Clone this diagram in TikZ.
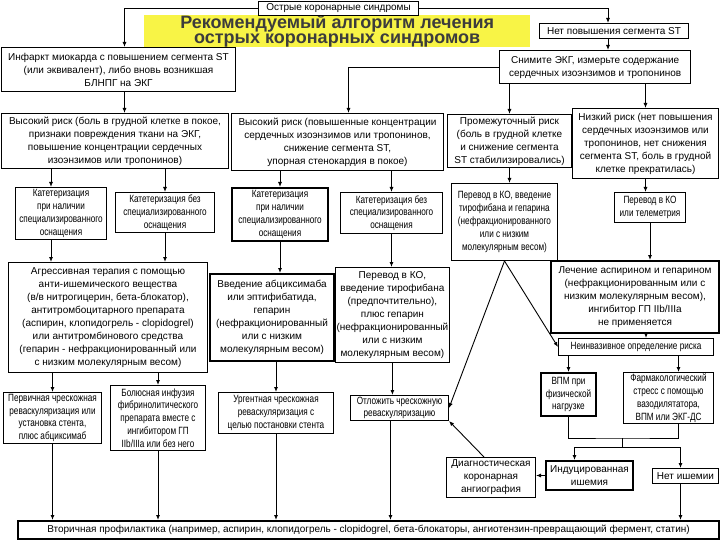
\documentclass[tikz,border=0pt]{standalone}
\usepackage{fontspec}
\setmainfont{Liberation Sans}
\newfontfamily\narrowfont[FakeStretch=0.78]{Liberation Sans}
\usepackage{tikz}
\usetikzlibrary{arrows.meta}
\definecolor{titleyellow}{RGB}{248,244,70}
\definecolor{titlegray}{RGB}{60,60,60}
\newcommand{\titlefont}{\bfseries\fontsize{18}{14.5}\selectfont\lineskiplimit=-50pt\relax}

\begin{document}
\begin{tikzpicture}[x=1pt,y=-1pt]
		\tikzstyle{box}=[draw,rectangle,align=center,anchor=north west,inner sep=1pt,line width=1pt,fill=white,font=\fontsize{10}{13}\selectfont]
		\tikzstyle{narrow}=[font=\narrowfont\fontsize{10.5}{12.8}\selectfont]
		\tikzstyle{heavy}=[line width=2pt]
		\tikzstyle{arr}=[-{Latex[length=5pt,width=4pt]},line width=0.9pt]

		\path[use as bounding box,fill=white] (0,0) rectangle (720,540);

		\node[anchor=north west,fill=titleyellow,minimum width=386pt,minimum height=32pt,inner sep=0pt,align=center,text=titlegray,font=\titlefont] (title) at (144,15) {Рекомендуемый алгоритм лечения\\острых коронарных синдромов};

		\node[box,minimum width=160pt,minimum height=14pt] (acs) at (258,1) {Острые коронарные синдромы};
		\node[box,minimum width=149pt,minimum height=15pt] (nost) at (539,23) {Нет повышения сегмента ST};
		\node[box,minimum width=191pt,minimum height=33pt,line width=1.4pt] (ecg) at (499,50) {Снимите ЭКГ, измерьте содержание\\сердечных изоэнзимов и тропонинов};
		\node[box,minimum width=234pt,minimum height=44pt] (stemi) at (1,47) {Инфаркт миокарда с повышением сегмента ST\\(или эквивалент), либо вновь возникшая\\БЛНПГ на ЭКГ};

		\node[box,minimum width=227pt,minimum height=55pt] (highA) at (1,113) {Высокий риск (боль в грудной клетке в покое,\\признаки повреждения ткани на ЭКГ,\\повышение концентрации сердечных\\изоэнзимов или тропонинов)};
		\node[box,minimum width=212pt,minimum height=57pt] (highB) at (231,113) {Высокий риск (повышенные концентрации\\сердечных изоэнзимов или тропонинов,\\снижение сегмента ST,\\упорная стенокардия в покое)};
		\node[box,minimum width=124pt,minimum height=53pt] (midrisk) at (447,114) {Промежуточный риск\\(боль в грудной клетке\\и снижение сегмента\\ST стабилизировались)};
		\node[box,minimum width=146pt,minimum height=70pt] (lowrisk) at (572,108) {Низкий риск (нет повышения\\сердечных изоэнзимов или\\тропонинов, нет снижения\\сегмента ST, боль в грудной\\клетке прекратилась)};

		\node[box,narrow,minimum width=91pt,minimum height=52pt] (cathA) at (15,187) {Катетеризация\\при наличии\\специализированного\\оснащения};
		\node[box,narrow,minimum width=99pt,minimum height=40pt] (cathB) at (115,192) {Катетеризация без\\специализированного\\оснащения};
		\node[box,narrow,heavy,minimum width=96pt,minimum height=53pt] (cathC) at (231,187) {Катетеризация\\при наличии\\специализированного\\оснащения};
		\node[box,narrow,minimum width=102pt,minimum height=41pt] (cathD) at (340,192) {Катетеризация без\\специализированного\\оснащения};
		\node[box,narrow,minimum width=106pt,minimum height=77pt] (ccu) at (451,183) {Перевод в КО, введение\\тирофибана и гепарина\\(нефракционированного\\или с низким\\молекулярным весом)};
		\node[box,narrow,minimum width=71pt,minimum height=30pt] (tele) at (614,192) {Перевод в КО\\или телеметрия};

		\node[box,minimum width=199pt,minimum height=110pt] (aggr) at (8,262) {Агрессивная терапия с помощью\\анти-ишемического вещества\\(в/в нитрогицерин, бета-блокатор),\\антитромбоцитарного препарата\\(аспирин, клопидогрель - clopidogrel)\\или антитромбинового средства\\(гепарин - нефракционированный или\\с низким молекулярным весом)};
		\node[box,heavy,minimum width=124pt,minimum height=87pt] (abcix) at (209,273) {Введение абциксимаба\\или эптифибатида,\\гепарин\\(нефракционированный\\или с низким\\молекулярным весом)};
		\node[box,minimum width=112pt,minimum height=95pt] (tirof) at (335,267) {Перевод в КО,\\введение тирофибана\\(предпочтительно),\\плюс гепарин\\(нефракционированный\\или с низким\\молекулярным весом)};
		\node[box,heavy,minimum width=168pt,minimum height=72pt] (aspir) at (550,260) {Лечение аспирином и гепарином\\(нефракционированным или с\\низким молекулярным весом),\\ингибитор ГП IIb/IIIa\\не применяется};
		\node[box,narrow,minimum width=155pt,minimum height=17pt] (noninv) at (558,338) {Неинвазивное определение риска};

		\node[box,narrow,minimum width=98pt,minimum height=51pt] (pci) at (3,392) {Первичная чрескожная\\реваскуляризация или\\установка стента,\\плюс абциксимаб};
		\node[box,narrow,minimum width=95pt,minimum height=65pt] (bolus) at (110,385) {Болюсная инфузия\\фибринолитического\\препарата вместе с\\ингибитором ГП\\IIb/IIIa или без него};
		\node[box,narrow,minimum width=115pt,minimum height=41pt] (urgent) at (218,392) {Ургентная чрескожная\\реваскуляризация с\\целью постановки стента};
		\node[box,narrow,minimum width=98pt,minimum height=25pt] (delay) at (350,395) {Отложить чрескожную\\реваскуляризацию};
		\node[box,narrow,heavy,minimum width=55pt,minimum height=43pt] (exer) at (540,372) {ВПМ при\\физической\\нагрузке};
		\node[box,narrow,minimum width=90pt,minimum height=51pt] (pharm) at (623,372) {Фармакологический\\стресс с помощью\\вазодилятатора,\\ВПМ или ЭКГ-ДС};

		\node[box,minimum width=89pt,minimum height=40pt] (angio) at (446,457) {Диагностическая\\коронарная\\ангиография};
		\node[box,heavy,minimum width=87pt,minimum height=29pt] (induced) at (545,460) {Индуцированная\\ишемия};
		\node[box,minimum width=66pt,minimum height=15pt] (noisch) at (652,468) {Нет ишемии};

		\node[box,heavy,minimum width=701pt,minimum height=18pt] (prev) at (17,520) {Вторичная профилактика (например, аспирин, клопидогрель - clopidogrel, бета-блокаторы, ангиотензин-превращающий фермент, статин)};

		\coordinate (join1) at (622,438);
		\coordinate (join2) at (622,447);

		\draw[arr] (acs.west) -| ([xshift=6pt]stemi.north);
		\draw[arr] (acs.east) -| ([xshift=-6pt]nost.north);
		\draw[arr] ([xshift=-6pt]nost.south) -- ([xshift=-6pt]nost.south |- ecg.north);
		\draw[arr] ([xshift=6pt]stemi.south) -- ([xshift=6pt]stemi.south |- highA.north);
		\draw[arr] (ecg.west) -| ([xshift=11pt]highB.north);
		\draw[arr] (midrisk.north |- ecg.south) -- (midrisk.north);
		\draw[arr] (lowrisk.north |- ecg.south) -- (lowrisk.north);

		\draw[arr] ([xshift=-10pt]cathA.north |- highA.south) -- ([xshift=-10pt]cathA.north);
		\draw[arr] (cathB.north |- highA.south) -- (cathB.north);
		\draw[arr] (cathC.north |- highB.south) -- (cathC.north);
		\draw[arr] (cathD.north |- highB.south) -- (cathD.north);
		\draw[arr] (midrisk.south) -- (midrisk.south |- ccu.north);
		\draw[arr] (lowrisk.south) -- (lowrisk.south |- tele.north);

		\draw[arr] ([xshift=-10pt]cathA.south) -- ([xshift=-10pt]cathA.south |- aggr.north);
		\draw[arr] (cathB.south) -- (cathB.south |- aggr.north);
		\draw[arr] (cathC.south) -- (cathC.south |- abcix.north);
		\draw[arr] (cathD.south) -- (cathD.south |- tirof.north);
		\draw[arr] (ccu.south) -- (noninv.west);
		\draw[arr] (ccu.south) -- (delay.east);
		\draw[arr] (tele.south) -- (tele.south |- aspir.north);
		\draw[arr] ([xshift=10pt]noninv.north |- aspir.south) -- ([xshift=10pt]noninv.north);

		\draw[arr] (pci.north |- aggr.south) -- (pci.north);
		\draw[arr] (bolus.north |- aggr.south) -- (bolus.north);
		\draw[arr] (urgent.north |- abcix.south) -- (urgent.north);
		\draw[arr] (tirof.south) -- (tirof.south |- delay.north);
		\draw[arr] (exer.north |- noninv.south) -- (exer.north);
		\draw[arr] ([xshift=10pt]pharm.north |- noninv.south) -- ([xshift=10pt]pharm.north);

		\draw[line width=0.9pt] (exer.south) |- (join1) -| ([xshift=10pt]pharm.south);
		\draw[line width=0.9pt] (join1) -- (join2);
		\draw[arr] (join2) -| ([xshift=-15pt]induced.north);
		\draw[arr] (join2) -| ([xshift=-5pt]noisch.north);
		\draw[arr] (induced.west) -- (induced.west -| angio.east);
		\draw[arr] ([xshift=-7pt]angio.north) -- (delay.south east);

		\draw[arr] (pci.south) -- (pci.south |- prev.north);
		\draw[arr] (bolus.south) -- (bolus.south |- prev.north);
		\draw[arr] (urgent.south) -- (urgent.south |- prev.north);
		\draw[arr] ([xshift=-9pt]delay.south) -- ([xshift=-9pt]delay.south |- prev.north);
		\draw[arr] ([xshift=-5pt]noisch.south) -- ([xshift=-5pt]noisch.south |- prev.north);

\end{tikzpicture}
\end{document}
